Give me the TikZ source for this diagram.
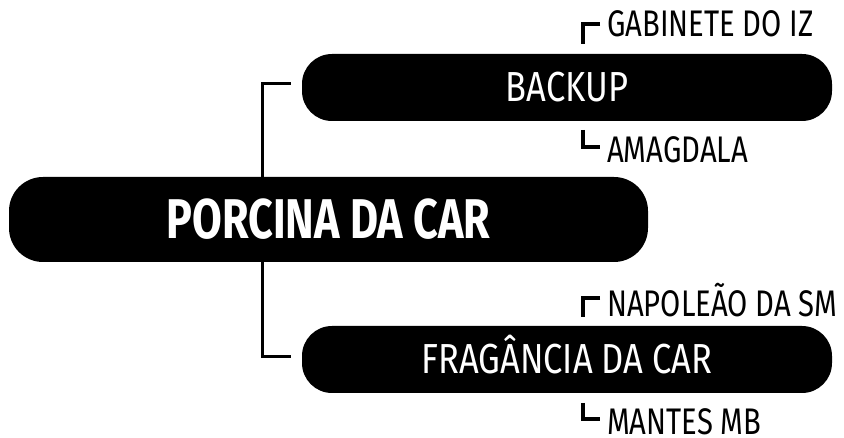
\documentclass[tikz,border=0pt]{standalone}
\usepackage{fontspec}
\setmainfont{Fira Sans}[FakeStretch=0.82]
\newfontfamily\rootfont{Fira Sans}[FakeStretch=0.77]
\newfontfamily\leaffont{Fira Sans}[FakeStretch=0.79]
\usetikzlibrary{calc}

\tikzset{
    rootbox/.style={fill=black, text=white, rounded corners=34pt, inner sep=0pt,
        minimum width=639pt, minimum height=85pt, text height=39pt, text depth=0pt,
        font=\rootfont\bfseries\fontsize{56}{56}\selectfont},
    branchbox/.style={fill=black, text=white, rounded corners=30pt, inner sep=0pt,
        minimum width=530pt, minimum height=67pt, text height=29pt, text depth=0pt,
        font=\fontsize{42}{42}\selectfont},
    leaf/.style={anchor=base west, inner sep=0pt, font=\leaffont\fontsize{37}{37}\selectfont},
    link/.style={line width=3pt},
    tick/.style={line width=3.5pt}
}

\begin{document}
\begin{tikzpicture}[x=1pt, y=1pt]
    \useasboundingbox (0,0) rectangle (844,438);
    % main box and its two branches
    \node[rootbox] (root) at (328.5,218.5) {PORCINA DA CAR};
    \node[branchbox] (backup) at (567,350.5) {BACKUP};
    \node[branchbox] (frag) at (567,78.5) {FRAGÂNCIA DA CAR};
    \coordinate (trunk) at (262,218.5);
    \draw[link] ([xshift=-11pt, yshift=4pt]backup.west) -| (trunk |- root.north);
    \draw[link] ([xshift=-11pt, yshift=2.5pt]frag.west) -| (trunk |- root.south);

    % leaves
    \node[leaf] (gab) at (607,401) {GABINETE DO IZ};
    \node[leaf] (amag) at (607,275) {AMAGDALA};
    \node[leaf] (napo) at (607,121) {NAPOLEÃO DA SM};
    \node[leaf] (mant) at (607,3) {MANTES MB};
    \draw[tick] ($(gab.base west)+(-7,13)$) -- ++(-17,0) -- ++(0,-20);
    \draw[tick] ($(amag.base west)+(-24,33)$) -- ++(0,-17) -- ++(17,0);
    \draw[tick] ($(napo.base west)+(-7,19)$) -- ++(-17,0) -- ++(0,-19);
    \draw[tick] ($(mant.base west)+(-24,32)$) -- ++(0,-16) -- ++(17,0);
\end{tikzpicture}
\end{document}
